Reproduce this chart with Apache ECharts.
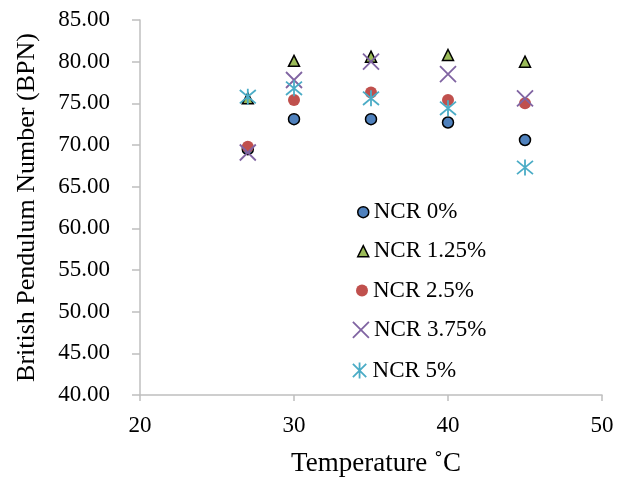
<!DOCTYPE html>
<html><head><meta charset="utf-8">
<script src="https://cdn.jsdelivr.net/npm/echarts@6/dist/echarts.min.js"></script>
<style>html,body{margin:0;padding:0;background:#fff}#c{width:630px;height:477px}</style>
</head><body><div id="c"></div>
<script>
const temps = [27, 30, 35, 40, 45];
const seriesNames = ['NCR 0%', 'NCR 1.25%', 'NCR 2.5%', 'NCR 3.75%', 'NCR 5%'];
const ncr0 = [69.5, 73.1, 73.1, 72.7, 70.6];
const ncr125 = [75.6, 80.1, 80.6, 80.8, 80.0];
const ncr25 = [69.8, 75.4, 76.3, 75.4, 75.0];
const ncr375 = [69.1, 77.8, 80.0, 78.5, 75.6];
const ncr5 = [75.8, 76.8, 75.6, 74.4, 67.3];
const yTicks = [40, 45, 50, 55, 60, 65, 70, 75, 80, 85];
const xTicks = [20, 30, 40, 50];

const FONT = '"Liberation Serif", "Times New Roman", serif';
const xPath = 'path://M0,0L10,10M10,0L0,10';
const starPath = 'path://M0,0L10,10M10,0L0,10M5,-1L5,11';
function pts(vals){ return temps.map((t,i)=>[t, vals[i]]); }

const styles = [
  {symbol:'circle', size:11, itemStyle:{color:'#4f81bd', borderColor:'#000', borderWidth:1.5, opacity:1}},
  {symbol:'triangle', size:11, itemStyle:{color:'#9bbb59', borderColor:'#000', borderWidth:1.5, opacity:1}},
  {symbol:'circle', size:12, itemStyle:{color:'#c0504d', borderWidth:0, opacity:1}},
  {symbol:xPath, size:16, itemStyle:{color:'rgba(0,0,0,0)', borderColor:'#8064a2', borderWidth:1.8, opacity:1}},
  {symbol:starPath, size:16, itemStyle:{color:'rgba(0,0,0,0)', borderColor:'#4bacc6', borderWidth:1.8, opacity:1}}
];
const legendCenters = [211.7, 250.7, 290, 329.3, 370];
const data = [ncr0, ncr125, ncr25, ncr375, ncr5];

const legends = seriesNames.map((n,i)=>{
  const s = styles[i].size;
  return {
    orient:'vertical', left:373 - 5 - s, top:legendCenters[i] - 11, padding:0,
    itemWidth:s, itemHeight:s, itemGap:5,
    textStyle:{fontFamily:FONT, fontSize:23, color:'#000'},
    data:[{name:n, icon:styles[i].symbol, itemStyle:styles[i].itemStyle}]
  };
});

const chart = echarts.init(document.getElementById('c'), null, {renderer:'canvas'});
chart.setOption({
  animation:false,
  backgroundColor:'#fff',
  textStyle:{fontFamily:FONT},
  grid:{left:140, right:28, top:20, bottom:82, containLabel:false, outerBoundsMode:'none'},
  legend: legends,
  xAxis:{
    type:'value', min:xTicks[0], max:xTicks[xTicks.length-1], interval:10,
    name:'Temperature ˚C', nameLocation:'middle', nameGap:55,
    nameTextStyle:{fontFamily:FONT, fontSize:27, color:'#000', padding:[0,0,0,10]},
    axisLine:{show:true, lineStyle:{color:'#bfbfbf', width:1.5}},
    axisTick:{show:true, length:6, lineStyle:{color:'#bfbfbf', width:1.5}},
    axisLabel:{fontFamily:FONT, fontSize:23, color:'#000', margin:19},
    splitLine:{show:false}
  },
  yAxis:{
    type:'value', min:yTicks[0], max:yTicks[yTicks.length-1], interval:5,
    name:'British Pendulum Number (BPN)', nameLocation:'middle', nameGap:100,
    nameTextStyle:{fontFamily:FONT, fontSize:26, color:'#000'},
    axisLine:{show:true, lineStyle:{color:'#bfbfbf', width:1.5}},
    axisTick:{show:true, length:8, lineStyle:{color:'#bfbfbf', width:1.5}},
    axisLabel:{fontFamily:FONT, fontSize:23, color:'#000', margin:30, formatter:v=>v.toFixed(2)},
    splitLine:{show:false}
  },
  series: seriesNames.map((n,i)=>({
    name:n, type:'scatter', symbol:styles[i].symbol, symbolSize:styles[i].size,
    itemStyle:styles[i].itemStyle, data:pts(data[i]), z:2+i
  }))
});
</script></body></html>
